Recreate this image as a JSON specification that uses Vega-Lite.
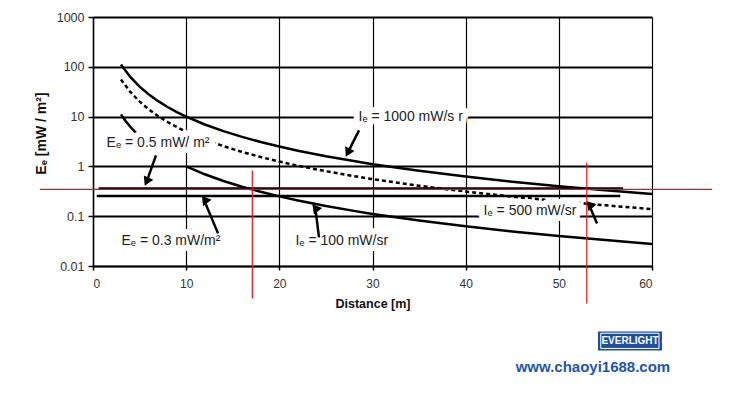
{
  "$schema": "https://vega.github.io/schema/vega-lite/v6.json",
  "autosize": {"type": "none"},
  "padding": {"left": 93, "top": 17, "right": 80, "bottom": 134},
  "width": 559,
  "height": 249,
  "background": "white",
  "config": {
    "font": "Liberation Sans",
    "view": {"stroke": null}
  },
  "datasets": {
    "curves": [
      {"series": "1000", "x": 3, "E": 111},
      {"series": "1000", "x": 4, "E": 62.5},
      {"series": "1000", "x": 5, "E": 40},
      {"series": "1000", "x": 6, "E": 27.8},
      {"series": "1000", "x": 7, "E": 20.4},
      {"series": "1000", "x": 8, "E": 15.6},
      {"series": "1000", "x": 9, "E": 12.3},
      {"series": "1000", "x": 10, "E": 10},
      {"series": "1000", "x": 12, "E": 6.94},
      {"series": "1000", "x": 14, "E": 5.1},
      {"series": "1000", "x": 16, "E": 3.91},
      {"series": "1000", "x": 18, "E": 3.09},
      {"series": "1000", "x": 20, "E": 2.5},
      {"series": "1000", "x": 22, "E": 2.07},
      {"series": "1000", "x": 25, "E": 1.6},
      {"series": "1000", "x": 28, "E": 1.28},
      {"series": "1000", "x": 30, "E": 1.11},
      {"series": "1000", "x": 35, "E": 0.816},
      {"series": "1000", "x": 40, "E": 0.625},
      {"series": "1000", "x": 45, "E": 0.494},
      {"series": "1000", "x": 50, "E": 0.4},
      {"series": "1000", "x": 55, "E": 0.331},
      {"series": "1000", "x": 60, "E": 0.278},
      {"series": "500", "x": 3, "E": 55.6},
      {"series": "500", "x": 4, "E": 31.3},
      {"series": "500", "x": 5, "E": 20},
      {"series": "500", "x": 6, "E": 13.9},
      {"series": "500", "x": 7, "E": 10.2},
      {"series": "500", "x": 8, "E": 7.8},
      {"series": "500", "x": 9, "E": 6.17},
      {"series": "500", "x": 10, "E": 5},
      {"series": "500", "x": 12, "E": 3.47},
      {"series": "500", "x": 14, "E": 2.55},
      {"series": "500", "x": 16, "E": 1.95},
      {"series": "500", "x": 18, "E": 1.54},
      {"series": "500", "x": 20, "E": 1.25},
      {"series": "500", "x": 22, "E": 1.03},
      {"series": "500", "x": 25, "E": 0.8},
      {"series": "500", "x": 28, "E": 0.638},
      {"series": "500", "x": 30, "E": 0.556},
      {"series": "500", "x": 35, "E": 0.408},
      {"series": "500", "x": 40, "E": 0.313},
      {"series": "500", "x": 45, "E": 0.247},
      {"series": "500", "x": 50, "E": 0.2},
      {"series": "500", "x": 55, "E": 0.165},
      {"series": "500", "x": 60, "E": 0.139},
      {"series": "100a", "x": 3, "E": 11.1},
      {"series": "100a", "x": 3.5, "E": 8.16},
      {"series": "100a", "x": 4, "E": 6.25},
      {"series": "100a", "x": 4.7, "E": 4.53},
      {"series": "100b", "x": 10, "E": 1},
      {"series": "100b", "x": 12, "E": 0.694},
      {"series": "100b", "x": 14, "E": 0.51},
      {"series": "100b", "x": 16, "E": 0.391},
      {"series": "100b", "x": 18, "E": 0.309},
      {"series": "100b", "x": 20, "E": 0.25},
      {"series": "100b", "x": 22, "E": 0.207},
      {"series": "100b", "x": 25, "E": 0.16},
      {"series": "100b", "x": 28, "E": 0.128},
      {"series": "100b", "x": 30, "E": 0.111},
      {"series": "100b", "x": 35, "E": 0.0816},
      {"series": "100b", "x": 40, "E": 0.0625},
      {"series": "100b", "x": 45, "E": 0.0494},
      {"series": "100b", "x": 50, "E": 0.04},
      {"series": "100b", "x": 55, "E": 0.0331},
      {"series": "100b", "x": 60, "E": 0.0278}
    ],
    "levels": [
      {"level": "0.5", "x": 0.6, "x2": 56.9, "E": 0.36},
      {"level": "0.3", "x": 0.4, "x2": 56.6, "E": 0.253}
    ],
    "arrows": [
      {"arrow": "a1", "x": 28.55, "E": 5.28, "x2": 27.35, "E2": 1.89},
      {"arrow": "a2", "x": 6.76, "E": 1.66, "x2": 5.76, "E2": 0.493},
      {"arrow": "a3", "x": 13.42, "E": 0.0452, "x2": 12.01, "E2": 0.193},
      {"arrow": "a4", "x": 24.26, "E": 0.0375, "x2": 23.89, "E2": 0.131},
      {"arrow": "a5", "x": 54.1, "E": 0.0717, "x2": 53.34, "E2": 0.153}
    ],
    "heads": [
      {"arrow": "a1", "x": 27.35, "E": 1.89},
      {"arrow": "a2", "x": 5.76, "E": 0.493},
      {"arrow": "a3", "x": 12.01, "E": 0.193},
      {"arrow": "a4", "x": 23.89, "E": 0.131},
      {"arrow": "a5", "x": 53.34, "E": 0.153}
    ],
    "labels": [
      {"text": "Iₑ = 1000 mW/s r", "x": 34.1, "E": 9.64},
      {"text": "Eₑ = 0.5 mW/ m²", "x": 6.98, "E": 2.9},
      {"text": "Eₑ = 0.3 mW/m²", "x": 8.37, "E": 0.0312},
      {"text": "Iₑ = 100 mW/sr", "x": 26.7, "E": 0.0312},
      {"text": "Iₑ = 500 mW/sr", "x": 46.9, "E": 0.125}
    ],
    "redlines": [
      {"x": -5.69, "x2": 66.44, "E": 0.345, "E2": 0.345},
      {"x": 17.1, "x2": 17.1, "E": 0.83, "E2": 0.00223},
      {"x": 53.0, "x2": 53.0, "E": 1.2, "E2": 0.00177}
    ],
    "logo": [
      {"x": 54.2, "x2": 61.07, "E": 0.000486, "E2": 0.000202}
    ],
    "logoInner": [
      {"x": 54.5, "x2": 60.75, "E": 0.000447, "E2": 0.000221}
    ],
    "logoText": [
      {"text": "EVERLIGHT", "x": 57.64, "E": 0.000313}
    ],
    "url": [
      {"text": "www.chaoyi1688.com", "x": 53.66, "E": 0.000092}
    ]
  },
  "encoding": {
    "x": {
      "field": "x", "type": "quantitative",
      "scale": {"domain": [0, 60], "nice": false, "zero": false},
      "axis": {
        "values": [0, 10, 20, 30, 40, 50, 60],
        "title": "Distance [m]",
        "grid": true, "gridColor": "#000", "gridWidth": 1.2, "gridOpacity": 1,
        "domainColor": "#000", "domainWidth": 1.5,
        "tickColor": "#000", "tickSize": 4, "tickWidth": 1.5,
        "labelFontSize": 12, "labelColor": "#333", "labelPadding": 8,
        "titleFontSize": 12.5, "titleFontWeight": "bold", "titleColor": "#111", "titlePadding": 8
      }
    },
    "y": {
      "field": "E", "type": "quantitative",
      "scale": {"type": "log", "domain": [0.01, 1000], "nice": false},
      "axis": {
        "values": [0.01, 0.1, 1, 10, 100, 1000],
        "format": "~g",
        "title": "Eₑ [mW / m²]",
        "titleY": 116,
        "grid": true, "gridColor": "#000", "gridWidth": 1.8, "gridOpacity": 1,
        "domainColor": "#000", "domainWidth": 1.5,
        "tickColor": "#000", "tickSize": 5, "tickWidth": 1.5,
        "labelFontSize": 12.5, "labelColor": "#333", "labelPadding": 4,
        "titleFontSize": 14, "titleFontWeight": "bold", "titleColor": "#111", "titlePadding": 8
      }
    }
  },
  "layer": [
    {
      "data": {"name": "curves"},
      "transform": [{"filter": "datum.series !== '500'"}],
      "mark": {"type": "line", "color": "#000", "strokeWidth": 2.5, "clip": false},
      "encoding": {"detail": {"field": "series", "type": "nominal"}}
    },
    {
      "data": {"name": "curves"},
      "transform": [{"filter": "datum.series === '500'"}],
      "mark": {"type": "line", "color": "#000", "strokeWidth": 2.5, "strokeDash": [4, 3], "clip": false},
      "encoding": {"detail": {"field": "series", "type": "nominal"}}
    },
    {
      "data": {"name": "levels"},
      "mark": {"type": "rule", "color": "#000", "strokeWidth": 2.5},
      "encoding": {"x2": {"field": "x2"}}
    },
    {
      "data": {"name": "labels"},
      "mark": {"type": "text", "fontSize": 14, "color": "white", "stroke": "white", "strokeWidth": 12, "strokeJoin": "round", "align": "center", "baseline": "middle", "clip": false},
      "encoding": {"text": {"field": "text"}}
    },
    {
      "data": {"name": "labels"},
      "mark": {"type": "text", "fontSize": 14, "color": "#222", "align": "center", "baseline": "middle", "clip": false},
      "encoding": {"text": {"field": "text"}}
    },
    {
      "data": {"name": "arrows"},
      "mark": {"type": "rule", "color": "#000", "strokeWidth": 2.5, "clip": false},
      "encoding": {"x2": {"field": "x2"}, "y2": {"field": "E2"}}
    },
    {
      "data": {"name": "heads"},
      "mark": {"type": "point", "shape": "triangle-up", "filled": true, "color": "#000", "size": 110, "opacity": 1, "clip": false},
      "encoding": {
        "angle": {
          "field": "arrow", "type": "nominal",
          "scale": {"domain": ["a1", "a2", "a3", "a4", "a5"], "range": [206.5, 199.5, 337.4, 353, 336.8]},
          "legend": null
        }
      }
    },
    {
      "data": {"name": "redlines"},
      "mark": {"type": "rule", "color": "#ee1111", "strokeWidth": 1.2, "clip": false},
      "encoding": {"x2": {"field": "x2"}, "y2": {"field": "E2"}}
    },
    {
      "data": {"name": "logo"},
      "mark": {"type": "rect", "color": "#1d4f9e", "clip": false},
      "encoding": {"x2": {"field": "x2"}, "y2": {"field": "E2"}}
    },
    {
      "data": {"name": "logoInner"},
      "mark": {"type": "rect", "filled": false, "stroke": "white", "strokeWidth": 1, "clip": false},
      "encoding": {"x2": {"field": "x2"}, "y2": {"field": "E2"}}
    },
    {
      "data": {"name": "logoText"},
      "mark": {"type": "text", "fontSize": 10, "fontWeight": "bold", "color": "white", "align": "center", "baseline": "middle", "clip": false},
      "encoding": {"text": {"field": "text"}}
    },
    {
      "data": {"name": "url"},
      "mark": {"type": "text", "fontSize": 15, "fontWeight": "bold", "color": "#1d56a8", "align": "center", "baseline": "middle", "clip": false},
      "encoding": {"text": {"field": "text"}}
    }
  ]
}
